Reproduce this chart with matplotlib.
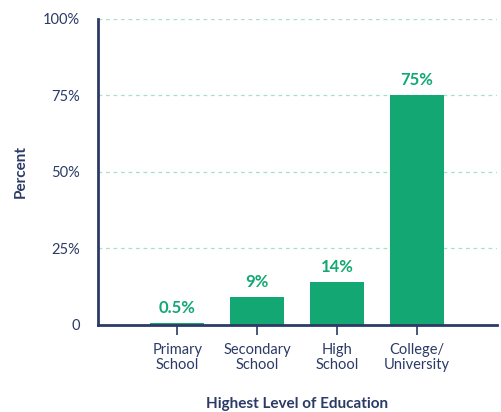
import matplotlib.pyplot as plt

# education level vs share of respondents
categories = ['Primary\nSchool', 'Secondary\nSchool', 'High\nSchool', 'College/\nUniversity']
percent = [0.5, 9, 14, 75]
value_labels = ['0.5%', '9%', '14%', '75%']
yticks = [0, 25, 50, 75, 100]
ytick_labels = ['0', '25%', '50%', '75%', '100%']

navy = '#2b3a67'
green = '#13a873'

plt.rcParams['font.family'] = ['Lato', 'DejaVu Sans']

fig = plt.figure(figsize=(5.01, 4.12), dpi=100)
ax = fig.add_axes([0.1956, 0.2112, 0.7964, 0.7428])

x = list(range(len(categories)))
ax.bar(x, percent, width=0.675, color=green, zorder=3)

# value labels on top of each bar
for xi, v, lab in zip(x, percent, value_labels):
    ax.text(xi, v + 2.3, lab, ha='center', va='bottom', color=green,
            fontsize=12, fontweight='bold')

ax.set_xlim(-0.99, 4.0)
ax.set_ylim(0, 100)
ax.set_yticks(yticks)
ax.set_yticklabels(ytick_labels)
ax.set_xticks(x)
ax.set_xticklabels(categories)

# dashed grid at the quarter marks
for y in yticks[1:]:
    ax.axhline(y, color='#a6e0c6', linestyle=(0, (3, 3)), linewidth=0.9, zorder=1)

for side in ['top', 'right']:
    ax.spines[side].set_visible(False)
ax.spines['left'].set_color(navy)
ax.spines['left'].set_linewidth(2)
ax.spines['bottom'].set_color(navy)
ax.spines['bottom'].set_linewidth(2)
ax.spines['bottom'].set_zorder(4)

ax.tick_params(axis='y', length=0, pad=13, labelsize=10.5, labelcolor=navy)
ax.tick_params(axis='x', length=7, width=1.2, color=navy, pad=6,
               labelsize=10.5, labelcolor=navy)
for t in ax.get_xticklabels():
    t.set_linespacing(1.05)

ax.set_xlabel('Highest Level of Education', color=navy, fontsize=11,
              fontweight='bold', labelpad=18)
ax.set_ylabel('Percent', color=navy, fontsize=11, fontweight='bold')
ax.yaxis.set_label_coords(-0.175, 0.5)

fig.savefig('out.png', dpi=100)
